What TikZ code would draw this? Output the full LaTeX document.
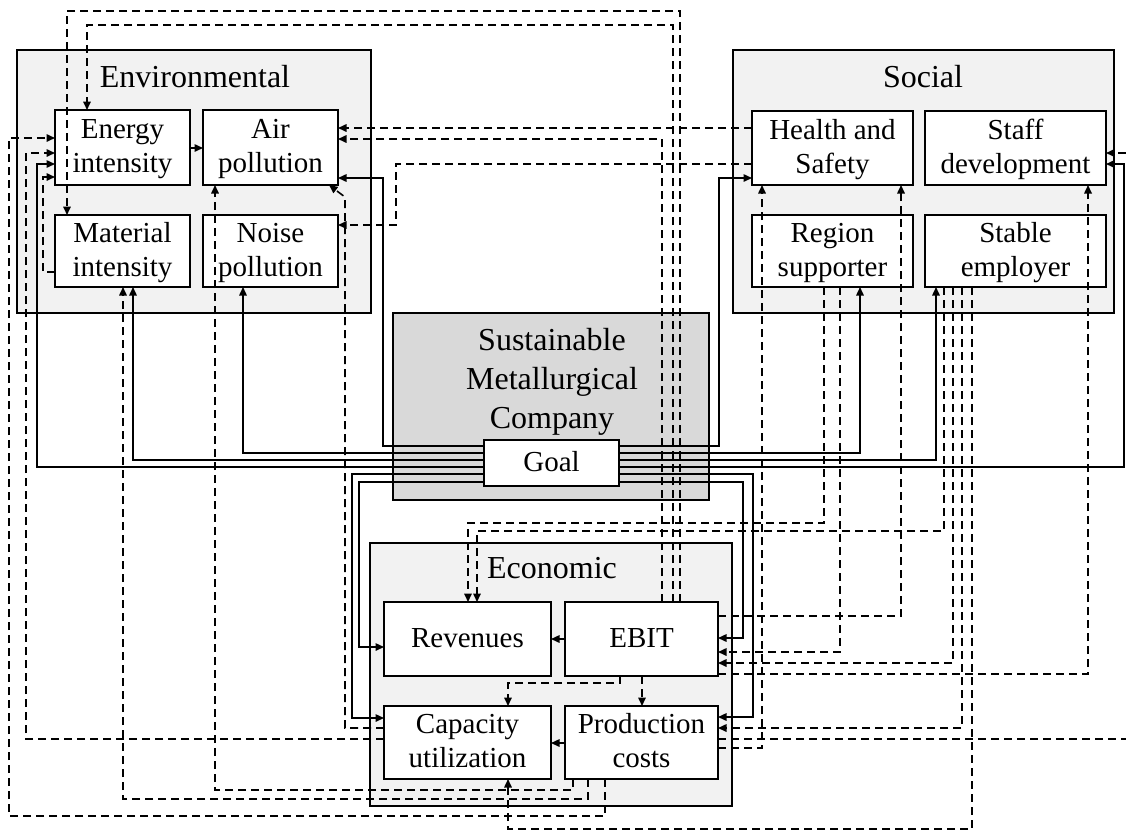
\documentclass[tikz,border=0pt]{standalone}
\usepackage{fontspec}
\setmainfont{Liberation Serif}
\usetikzlibrary{arrows.meta}
\definecolor{grpfill}{HTML}{F2F2F2}
\definecolor{smcfill}{HTML}{D9D9D9}
\newcommand{\mystrut}{\rule[-0.22em]{0pt}{1.0em}}
\begin{document}
\begin{tikzpicture}[x=1pt,y=-1pt,
  grp/.style={draw, line width=2.4pt, fill=grpfill, inner sep=0pt, outer sep=0pt},
  box/.style={draw, line width=2.4pt, fill=white, inner sep=0pt, outer sep=0pt, align=center, font=\fontsize{29}{34}\selectfont},
  ttl/.style={anchor=base, inner sep=0pt, font=\fontsize{32}{38}\selectfont},
  sl/.style={line width=1.5pt, -{Triangle[length=8.5pt,width=7.5pt]}},
  dl/.style={line width=1.6pt, dash pattern=on 8pt off 5pt, -{Triangle[length=8.5pt,width=7.5pt]}},
  dn/.style={line width=1.6pt, dash pattern=on 8pt off 5pt},
]
\useasboundingbox (0,0) rectangle (1126,831);
% group boxes
\node[grp, minimum width=354pt, minimum height=263pt] (env) at (194,181.5) {};
\node[grp, minimum width=381pt, minimum height=263pt] (soc) at (923.5,181.5) {};
\node[grp, minimum width=362pt, minimum height=263pt] (eco) at (551,674.5) {};
\node[grp, fill=smcfill, minimum width=316pt, minimum height=187pt] (smc) at (551,406.5) {};
\node[ttl] (envT) at (195,87) {Environmental};
\node[ttl] (socT) at (923,87) {Social};
\node[ttl] (ecoT) at (552,578) {Economic};
\node[inner sep=0pt, align=center, font=\fontsize{32}{39}\selectfont] (smcT) at (552,382)
  {\rule[-0.22em]{0pt}{0.9em}Sustainable\\\rule[-0.22em]{0pt}{0.9em}Metallurgical\\\rule[-0.22em]{0pt}{0.9em}Company};
% inner boxes
\node[box, minimum width=135pt, minimum height=75pt] (ei) at (122.5,147.5) {\mystrut Energy\\\mystrut intensity};
\node[box, minimum width=135pt, minimum height=75pt] (ap) at (270.5,147.5) {\mystrut Air\\\mystrut pollution};
\node[box, minimum width=135pt, minimum height=72pt] (mi) at (122.5,251) {\mystrut Material\\\mystrut intensity};
\node[box, minimum width=135pt, minimum height=72pt] (np) at (270.5,251) {\mystrut Noise\\\mystrut pollution};
\node[box, minimum width=161pt, minimum height=74pt] (hs) at (832.5,148) {\mystrut Health and\\\mystrut Safety};
\node[box, minimum width=181pt, minimum height=74pt] (sd) at (1015.5,148) {\mystrut Staff\\\mystrut development};
\node[box, minimum width=161pt, minimum height=72pt] (rs) at (832.5,251) {\mystrut Region\\\mystrut supporter};
\node[box, minimum width=181pt, minimum height=72pt] (se) at (1015.5,251) {\mystrut Stable\\\mystrut employer};
\node[box, minimum width=167pt, minimum height=74pt] (rev) at (467.5,639) {\mystrut Revenues};
\node[box, minimum width=153pt, minimum height=74pt] (ebit) at (641.5,639) {\mystrut EBIT};
\node[box, minimum width=167pt, minimum height=73pt] (cap) at (467.5,742.5) {\mystrut Capacity\\\mystrut utilization};
\node[box, minimum width=153pt, minimum height=73pt] (pc) at (641.5,742.5) {\mystrut Production\\\mystrut costs};
\node[box, minimum width=135pt, minimum height=46pt] (goal) at (551.5,463) {\mystrut Goal};
% solid connectors
\draw[sl] (goal.west |- 0,446) -- (383,446) -- (383,178) -- (ap.east |- 0,178);
\draw[sl] (goal.west |- 0,453) -| (np.south -| 243,0);
\draw[sl] (goal.west |- 0,460) -| (mi.south -| 133,0);
\draw[sl] (goal.west |- 0,467) -- (37,467) -- (37,164) -- (ei.west |- 0,164);
\draw[sl] (goal.west |- 0,474) -- (352,474) -- (352,718) -- (cap.west |- 0,718);
\draw[sl] (goal.west |- 0,482) -- (359,482) -- (359,647) -- (rev.west |- 0,647);
\draw[sl] (goal.east |- 0,446) -- (719,446) -- (719,178) -- (hs.west |- 0,178);
\draw[sl] (goal.east |- 0,453) -| (rs.south -| 860,0);
\draw[sl] (goal.east |- 0,460) -| (se.south -| 936,0);
\draw[sl] (goal.east |- 0,467) -- (1124,467) -- (1124,164) -- (sd.east |- 0,164);
\draw[sl] (goal.east |- 0,474) -- (753,474) -- (753,717) -- (pc.east |- 0,717);
\draw[sl] (goal.east |- 0,482) -- (743,482) -- (743,638) -- (ebit.east |- 0,638);
\draw[sl] (ei.east |- 0,148) -- (ap.west |- 0,148);
\draw[sl] (ebit.west) -- (rev.east);
\draw[sl] (pc.west |- 0,743) -- (cap.east |- 0,743);
% dashed connectors
\draw[dl] (ebit.north -| 662,0) -- (662,139) -- (ap.east |- 0,139);
\draw[dl] (ebit.north -| 673,0) -- (673,25) -- (87,25) -- (ei.north -| 87,0);
\draw[dl] (ebit.north -| 680,0) -- (680,11) -- (67,11) -- (mi.north -| 67,0);
\draw[dl] (hs.west |- 0,128) -- (ap.east |- 0,128);
\draw[dl] (hs.west |- 0,164) -- (396,164) -- (396,225) -- (np.east |- 0,225);
\draw[dl] (cap.west |- 0,728) -- (345,728) -- (345,197) -- ([xshift=-9pt]ap.south east);
\draw[dl] (pc.south -| 605,0) -- (605,816) -- (9,816) -- (9,138) -- (ei.west |- 0,138);
\draw[dl] (cap.west |- 0,739) -- (26,739) -- (26,153) -- (ei.west |- 0,153);
\draw[dl] (mi.west |- 0,272) -- (43,272) -- (43,177) -- (ei.west |- 0,177);
\draw[dl] (pc.south -| 573,0) -- (573,790) -- (215,790) -- (ap.south -| 215,0);
\draw[dl] (pc.south -| 588,0) -- (588,799) -- (123,799) -- (mi.south -| 123,0);
\draw[dl] (se.south -| 972,0) -- (972,829) -- (508,829) -- (cap.south -| 508,0);
\draw[dl] (rs.south -| 824,0) -- (824,523) -- (468,523) -- (rev.north -| 468,0);
\draw[dl] (se.south -| 944,0) -- (944,531) -- (477,531) -- (rev.north -| 477,0);
\draw[dl] (ebit.east |- 0,616) -- (901,616) -- (hs.south -| 901,0);
\draw[dl] (se.south -| 953,0) -- (953,663) -- (ebit.east |- 0,663);
\draw[dl] (se.south -| 962,0) -- (962,728) -- (pc.east |- 0,728);
\draw[dl] (ebit.east |- 0,674) -- (1088,674) -- (sd.south -| 1088,0);
\draw[dl] (rs.south -| 840,0) -- (840,652) -- (ebit.east |- 0,652);
\draw[dl] (pc.east |- 0,748) -- (762,748) -- (hs.south -| 762,0);
\coordinate (outR) at (1126,739);
\draw[dn] (pc.east |- 0,739) -- (outR);
\coordinate (inR) at (1126,153);
\draw[dl] (inR) -- (sd.east |- 0,153);
\draw[dl] (ebit.south -| 620,0) -- (620,683) -- (508,683) -- (cap.north -| 508,0);
\draw[dl] (ebit.south -| 642,0) -- (pc.north -| 642,0);
\end{tikzpicture}
\end{document}
